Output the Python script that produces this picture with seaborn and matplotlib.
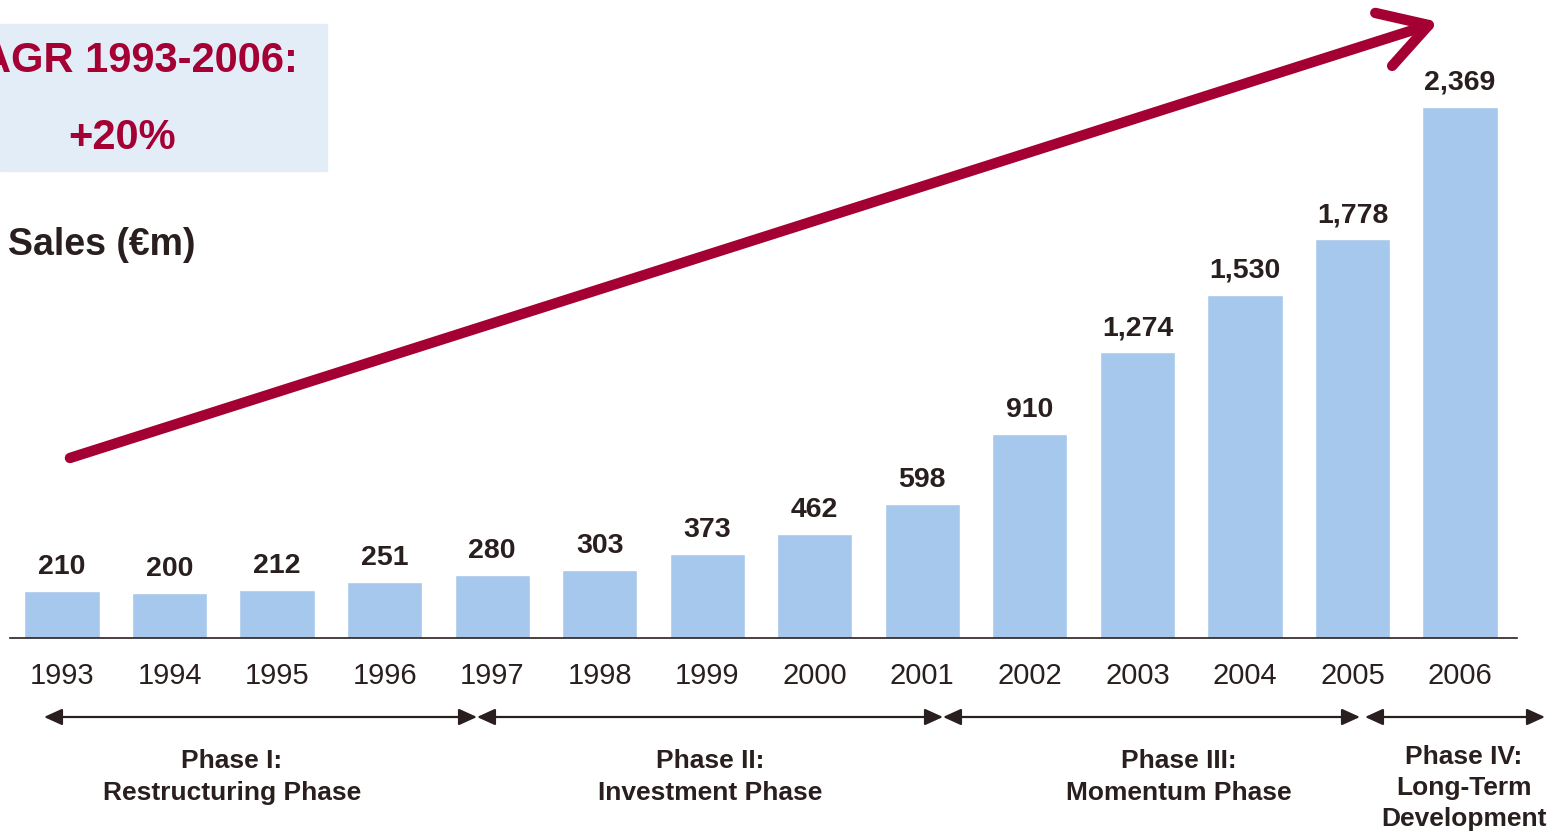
import matplotlib
matplotlib.use("Agg")
import matplotlib.pyplot as plt
import matplotlib.transforms as mtransforms
from matplotlib.patches import Rectangle, FancyArrowPatch
import seaborn as sns
import pandas as pd

years = ["1993", "1994", "1995", "1996", "1997", "1998", "1999",
         "2000", "2001", "2002", "2003", "2004", "2005", "2006"]
sales = [210, 200, 212, 251, 280, 303, 373, 462, 598, 910, 1274, 1530, 1778, 2369]
phase_names = ["Phase I:\nRestructuring Phase", "Phase II:\nInvestment Phase",
               "Phase III:\nMomentum Phase", "Phase IV:\nLong-Term\nDevelopment"]
cagr_title = "CAGR 1993-2006:"
cagr_value = "+20%"
unit_label = "Sales (€m)"

sns.set_style("white")
plt.rcParams["font.family"] = ["Liberation Sans", "DejaVu Sans"]

DARK = "#2a1f1f"
RED = "#a50034"
BAR = "#a5c8ec"
W, H = 1551, 832

fig = plt.figure(figsize=(W / 100, H / 100), dpi=100)
ax = fig.add_axes([10 / W, (H - 638) / H, (1517 - 10) / W, 638 / H])

df = pd.DataFrame({"year": years, "sales": sales})
sns.barplot(data=df, x="year", y="sales", color=BAR, width=0.7,
            saturation=1, ax=ax)

ax.set_xlim(-0.4835, 13.53)
ax.set_ylim(0, 638 / 0.22418)
for s in ["left", "right", "top"]:
    ax.spines[s].set_visible(False)
ax.spines["bottom"].set_color(DARK)
ax.spines["bottom"].set_linewidth(1.2)
ax.set_yticks([])
ax.set_xlabel("")
ax.set_ylabel("")
ax.tick_params(axis="x", length=0, pad=17.5, labelsize=21, labelcolor=DARK)

ax.bar_label(ax.containers[0], labels=[f"{v:,}" for v in sales], padding=8,
             fontsize=20.5, fontweight="bold", color=DARK)

# Big growth arrow
big = FancyArrowPatch((0.074, 803), (12.8, 2748),
                      arrowstyle="->,head_length=3.4,head_width=2.0",
                      mutation_scale=10, lw=7.5, color=RED,
                      capstyle="round", joinstyle="round",
                      shrinkA=0, shrinkB=0, clip_on=False)
ax.add_patch(big)

# CAGR box
fig.patches.append(Rectangle((0, (H - 171) / H), 327 / W, 147 / H,
                             transform=fig.transFigure, color="#e2edf8",
                             zorder=0))
fig.text(298 / W, (H - 61) / H, cagr_title, ha="right", va="center",
         fontsize=30, fontweight="bold", color=RED)
fig.text(122 / W, (H - 138) / H, cagr_value, ha="center", va="center",
         fontsize=30, fontweight="bold", color=RED)
fig.text(8 / W, (H - 245) / H, unit_label, ha="left", va="center",
         fontsize=27, fontweight="bold", color=DARK)

# Phase arrows
def px2x(p):
    return (p - 62) / 107.54

spans = [(44, 477), (477, 943), (943, 1360), (1365, 1545)]
label_x = [232, 710, 1179, 1464]
label_y = [777, 777, 777, 788]
blend = mtransforms.blended_transform_factory(ax.transData, fig.transFigure)
for (a, b), name, lx, ly in zip(spans, phase_names, label_x, label_y):
    ax.annotate("", xy=(px2x(b), (H - 717) / H), xytext=(px2x(a), (H - 717) / H),
                xycoords=("data", "figure fraction"),
                textcoords=("data", "figure fraction"),
                arrowprops=dict(arrowstyle="<|-|>,head_length=1.1,head_width=0.5",
                                mutation_scale=10, lw=1.6, color=DARK,
                                shrinkA=0, shrinkB=0),
                annotation_clip=False)
    ax.text(px2x(lx), (H - ly) / H, name, transform=blend,
            ha="center", va="center", fontsize=19, fontweight="bold",
            color=DARK, linespacing=1.37)

fig.savefig("out.png", dpi=100)
